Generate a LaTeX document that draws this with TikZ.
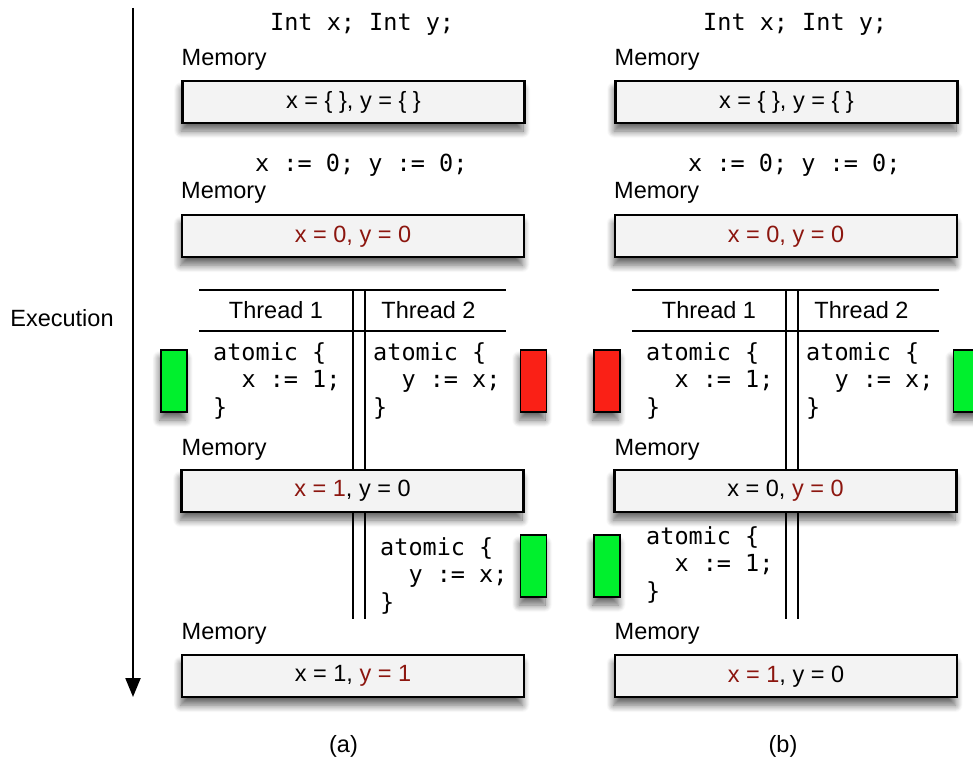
\documentclass[tikz,border=0pt]{standalone}
\usepackage{fontspec}
\setmainfont{Liberation Sans}
\newfontfamily\codefont{DejaVu Sans Mono}
\usetikzlibrary{arrows.meta,shadows.blur}
\definecolor{memred}{RGB}{140,22,15}
\definecolor{boxgray}{RGB}{243,243,243}
\definecolor{okgreen}{RGB}{0,240,45}
\definecolor{badred}{RGB}{250,32,22}
\begin{document}
\begin{tikzpicture}[x=1pt,y=-1pt,
  sans/.style={font=\fontsize{23.5}{28}\selectfont, inner sep=0pt},
  code/.style={font=\codefont\fontsize{23.5}{28}\selectfont, inner sep=0pt, anchor=base west},
  lbl/.style={sans, anchor=base west},
  shad/.style={blur shadow={shadow xshift=-1.5pt, shadow yshift=-8pt, shadow blur radius=7pt, shadow opacity=60, shadow blur steps=10}},
  membox/.style={draw, line width=2.2pt, fill=boxgray, minimum width=342pt, minimum height=42pt, inner sep=0pt, font=\fontsize{23.5}{28}\selectfont, shad},
  bar/.style={draw, line width=1.8pt, minimum width=26pt, minimum height=62pt, inner sep=0pt, shad},
  rule/.style={line width=2pt}]
\useasboundingbox (0,0) rectangle (973,762);

% execution arrow
\coordinate (arrtop) at (133,8);
\coordinate (arrbot) at (133,697);
\draw[line width=2.2pt, -{Triangle[length=19pt,width=15pt]}] (arrtop) -- (arrbot);
\node[sans] (exec) at (62,318) {Execution};

% ---------------- panel (a) ----------------
\node[code] (aint) at (270,30.7) {Int x; Int y;};
\node[lbl] (amem1) at (181.5,66) {Memory};
\node[membox] (abox1) at (353.5,102) {x = \{ \}, y = \{ \}};
\node[code] (ainit) at (255,171.7) {x := 0; y := 0;};
\node[lbl] (amem2) at (181,198.5) {Memory};
\node[membox] (abox2) at (353,236.3) {\color{memred}x = 0, y = 0};

\draw[rule] (199,290) -- (506,290);
\draw[rule] (199,331) -- (506,331);
\node[sans, anchor=base] (ath1) at (276,318.3) {Thread 1};
\node[sans, anchor=base] (ath2) at (428.5,318.3) {Thread 2};

\node[code] (aa1) at (213,360) {atomic \{};
\node[code] (aa2) at (213,387.5) {\phantom{xx}x := 1;};
\node[code] (aa3) at (213,415) {\}};
\node[code] (ab1) at (373,360) {atomic \{};
\node[code] (ab2) at (373,387.5) {\phantom{xx}y := x;};
\node[code] (ab3) at (373,415) {\}};
\node[bar, fill=okgreen] (abar1) at (174,381) {};
\node[bar, fill=badred] (abar2) at (533.5,381) {};

\node[lbl] (amem3) at (181.5,455) {Memory};
\node[membox] (abox3) at (352.5,491) {{\color{memred}x = 1}, y = 0};

\draw[rule] (353,290) -- (353,469) (353,513) -- (353,619);
\draw[rule] (364.5,290) -- (364.5,469) (364.5,513) -- (364.5,619);

\node[code] (ac1) at (380,555) {atomic \{};
\node[code] (ac2) at (380,582.5) {\phantom{xx}y := x;};
\node[code] (ac3) at (380,610) {\}};
\node[bar, fill=okgreen] (abar3) at (533.5,566) {};

\node[lbl] (amem4) at (181.5,639) {Memory};
\node[membox] (abox4) at (353,676.3) {x = 1, {\color{memred}y = 1}};
\node[sans] (acap) at (343.5,746) {(a)};

% ---------------- panel (b) ----------------
\begin{scope}[xshift=433pt]
\node[code] (bint) at (270,30.7) {Int x; Int y;};
\node[lbl] (bmem1) at (181.5,66) {Memory};
\node[membox] (bbox1) at (353.5,102) {x = \{ \}, y = \{ \}};
\node[code] (binit) at (255,171.7) {x := 0; y := 0;};
\node[lbl] (bmem2) at (181,198.5) {Memory};
\node[membox] (bbox2) at (353,236.3) {\color{memred}x = 0, y = 0};

\draw[rule] (199,290) -- (506,290);
\draw[rule] (199,331) -- (506,331);
\node[sans, anchor=base] (bth1) at (276,318.3) {Thread 1};
\node[sans, anchor=base] (bth2) at (428.5,318.3) {Thread 2};

\node[code] (ba1) at (213,360) {atomic \{};
\node[code] (ba2) at (213,387.5) {\phantom{xx}x := 1;};
\node[code] (ba3) at (213,415) {\}};
\node[code] (bb1) at (373,360) {atomic \{};
\node[code] (bb2) at (373,387.5) {\phantom{xx}y := x;};
\node[code] (bb3) at (373,415) {\}};
\node[bar, fill=badred] (bbar1) at (174,381) {};
\node[bar, fill=okgreen] (bbar2) at (533.5,381) {};

\node[lbl] (bmem3) at (181.5,455) {Memory};
\node[membox] (bbox3) at (352.5,491) {x = 0, {\color{memred}y = 0}};

\draw[rule] (353,290) -- (353,469) (353,513) -- (353,619);
\draw[rule] (364.5,290) -- (364.5,469) (364.5,513) -- (364.5,619);

\node[code] (bc1) at (213,544) {atomic \{};
\node[code] (bc2) at (213,571.5) {\phantom{xx}x := 1;};
\node[code] (bc3) at (213,599) {\}};
\node[bar, fill=okgreen] (bbar3) at (174,566) {};

\node[lbl] (bmem4) at (181.5,639) {Memory};
\node[membox] (bbox4) at (353,676.3) {{\color{memred}x = 1}, y = 0};
\node[sans] (bcap) at (350,746) {(b)};
\end{scope}
\end{tikzpicture}
\end{document}
